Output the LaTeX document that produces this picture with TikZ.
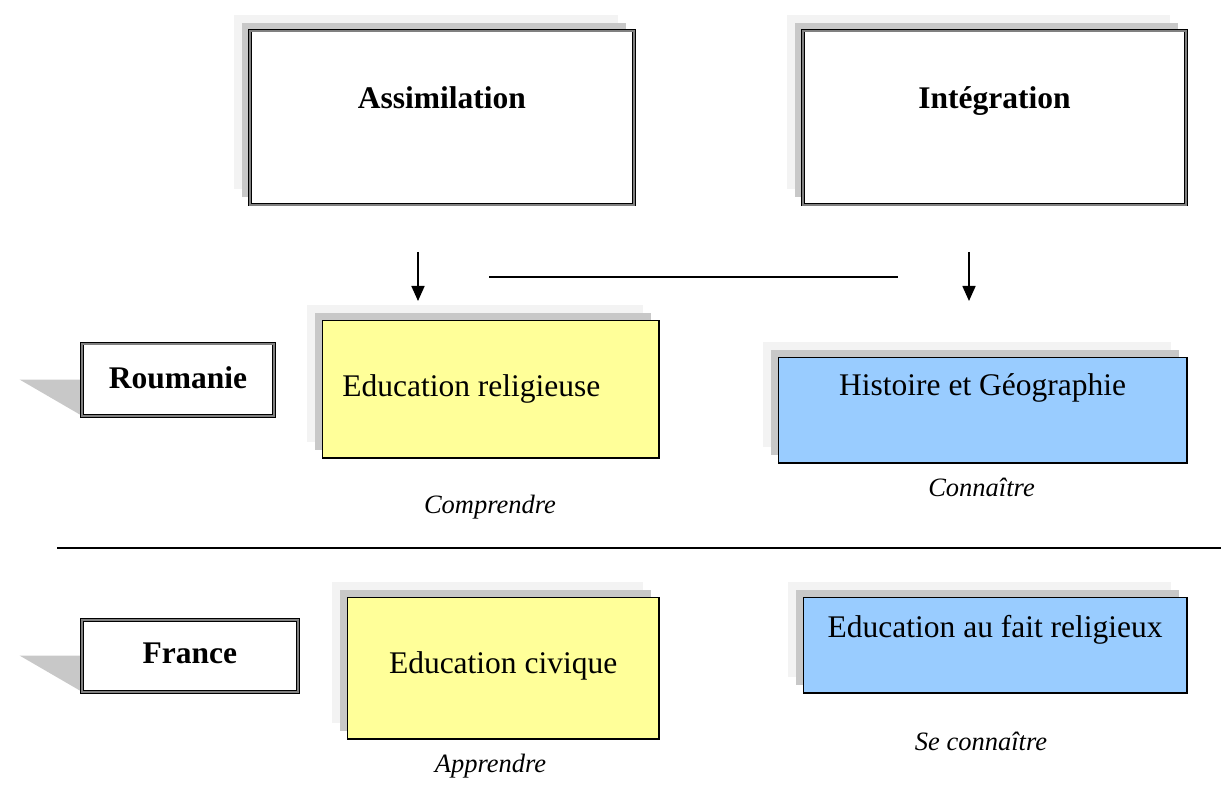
\documentclass[tikz,border=0pt]{standalone}
\usepackage{fontspec}
\setmainfont{Liberation Serif}
\usetikzlibrary{shadows,arrows.meta,calc}

\definecolor{paleyellow}{HTML}{FFFF99}
\definecolor{paleblue}{HTML}{99CCFF}
\definecolor{shadedark}{HTML}{C8C8C8}
\definecolor{shadelight}{HTML}{F3F3F3}
\definecolor{framegray}{HTML}{808080}

\tikzset{
  x=1pt, y=-1pt,
  % two stacked shadows, offset up and to the left
  layered/.style={
    general shadow={fill=shadelight, shadow xshift=-15.5pt, shadow yshift=15.5pt},
    general shadow={fill=shadedark, shadow xshift=-7.5pt, shadow yshift=7.5pt}},
  framed/.style={draw=black, line width=0.8pt, double=framegray,
    double distance=1.6pt, fill=white, inner sep=0pt, anchor=north west},
  subject/.style={draw=black, line width=1.3pt, inner sep=0pt, anchor=north west},
  bigbold/.style={font=\fontsize{31.5}{36}\selectfont\bfseries},
  bigtext/.style={font=\fontsize{31.5}{36}\selectfont},
  verb/.style={font=\fontsize{26.5}{30}\selectfont\itshape, anchor=base, inner sep=0pt},
  flow/.style={line width=1.7pt, -{Triangle[width=13pt,length=15pt]}},
  rule/.style={line width=1.6pt},
  callout/.style={fill=shadedark},
}

\begin{document}
\begin{tikzpicture}
\useasboundingbox (0,0) rectangle (1221,794);

% approaches
\node[framed, layered, bigbold, minimum width=384pt,
      text height=77.5pt, text depth=96.5pt] (assim) at (249.5,30.5) {Assimilation};
\node[framed, layered, bigbold, minimum width=383pt,
      text height=77.5pt, text depth=96.5pt] (integ) at (802.5,30.5) {Intégration};

% countries with their callout tails
\fill[callout] ($(81.5,379.5)+(-62,0)$) -- (81.5,379.5) -- (81.5,415.5) -- cycle;
\node[framed, bigbold, minimum width=192pt,
      text height=44.5pt, text depth=27.5pt] (roum) at (81.5,343.5) {Roumanie};
\fill[callout] ($(81.5,655.5)+(-62,0)$) -- (81.5,655.5) -- (81.5,691.5) -- cycle;
\node[framed, bigbold, minimum width=216pt,
      text height=43.5pt, text depth=28.5pt] (france) at (81.5,619.5) {France};

% subjects
\node[subject, layered, fill=paleyellow, bigtext, inner xsep=20pt,
      text height=76.3pt, text depth=61.3pt] (edrel) at (321.7,319.7)
      {\makebox[296.6pt][l]{Education religieuse}};
\node[subject, layered, fill=paleblue, bigtext, minimum width=408.6pt,
      text height=38.3pt, text depth=67.3pt] (hist) at (777.7,356.7)
      {Histoire et Géographie};
\node[subject, layered, fill=paleyellow, bigtext, minimum width=311.6pt,
      text height=76.3pt, text depth=65.3pt] (edciv) at (346.7,596.7)
      {Education civique};
\node[subject, layered, fill=paleblue, bigtext, minimum width=383.6pt,
      text height=40.3pt, text depth=55.3pt] (edfait) at (802.7,596.7)
      {Education au fait religieux};

% verbs
\node[verb] (comp) at (490,513) {Comprendre};
\node[verb] (conn) at (981.5,496) {Connaître};
\node[verb] (appr) at (490.5,772) {Apprendre};
\node[verb] (seconn) at (981,750) {Se connaître};

% arrows and rules
\coordinate (la) at (418,252);
\coordinate (lb) at (418,301);
\coordinate (ra) at (969,252);
\coordinate (rb) at (969,301);
\coordinate (ma) at (489,277);
\coordinate (mb) at (898,277);
\coordinate (sa) at (57,548);
\coordinate (sb) at (1221,548);
\draw[flow] (la) -- (lb);
\draw[flow] (ra) -- (rb);
\draw[rule] (ma) -- (mb);
\draw[rule] (sa) -- (sb);
\end{tikzpicture}
\end{document}
